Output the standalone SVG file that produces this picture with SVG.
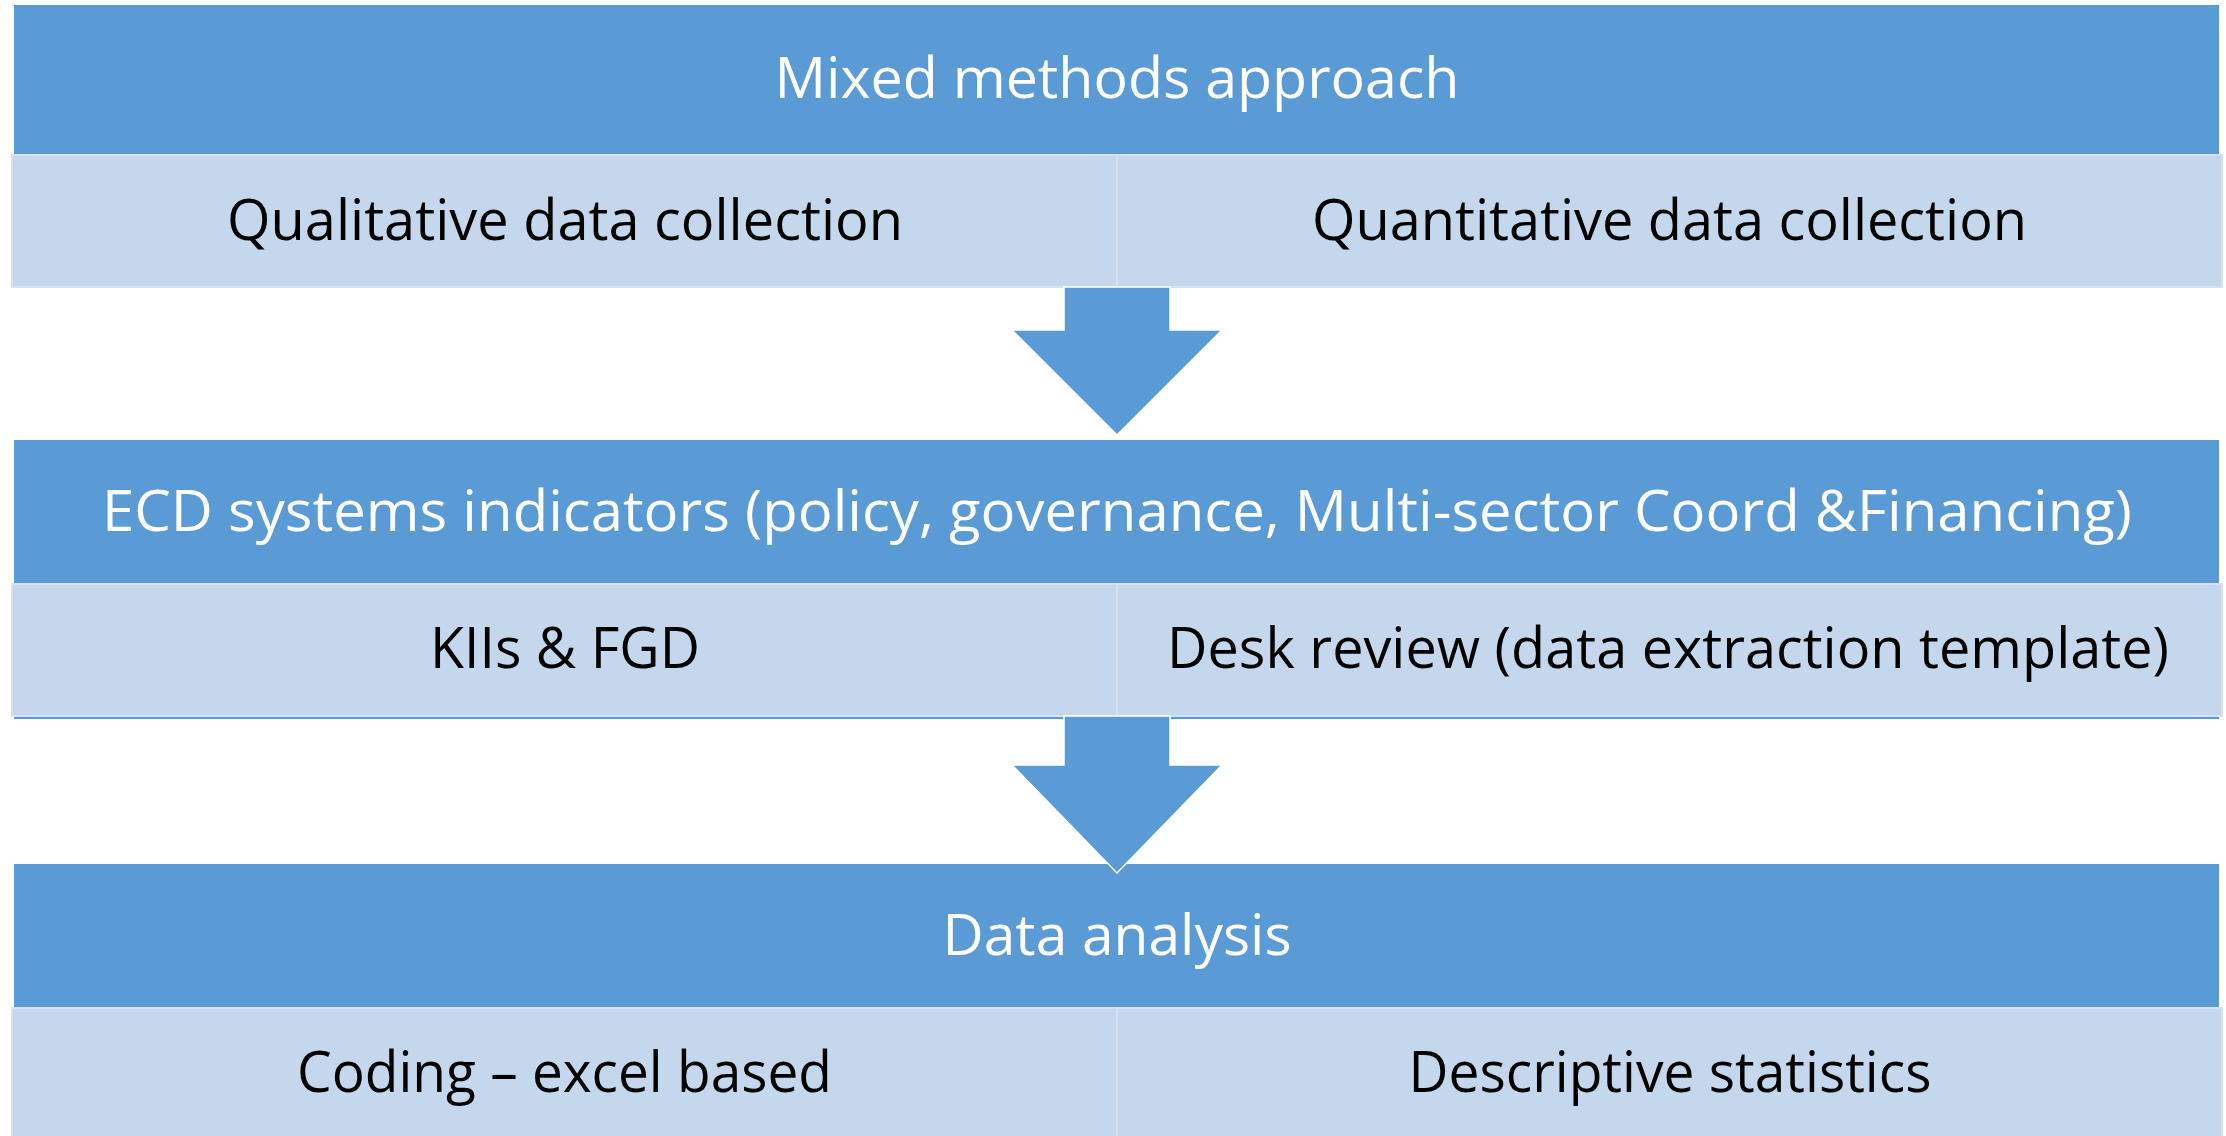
<svg xmlns="http://www.w3.org/2000/svg" width="2226" height="1136" viewBox="0 0 2226 1136">
<style>
.hdr{fill:#5B9BD5}
.sub{fill:#C5D7ED;stroke:#D6E2F2;stroke-width:2}
.arrow{fill:#5B9BD5;stroke:#FFFFFF;stroke-width:1.5;stroke-linejoin:miter}
text{font-family:"Open Sans","Noto Sans","Liberation Sans",sans-serif;font-size:57px;text-anchor:middle}
.w{fill:#FFFFFF}
.k{fill:#000000}
</style>
<rect x="0" y="0" width="2226" height="1136" fill="#FFFFFF"/>
<g id="section1">
  <g id="mixed-methods">
    <rect class="hdr" x="14" y="5" width="2205" height="150"/>
    <text class="w" x="1117" y="98" textLength="685" lengthAdjust="spacingAndGlyphs">Mixed methods approach</text>
  </g>
  <g id="qualitative">
    <rect class="sub" x="12" y="155" width="1105" height="132"/>
    <text class="k" x="565" y="240" textLength="676" lengthAdjust="spacingAndGlyphs">Qualitative data collection</text>
  </g>
  <g id="quantitative">
    <rect class="sub" x="1117" y="155" width="1105" height="132"/>
    <text class="k" x="1669.5" y="240" textLength="715" lengthAdjust="spacingAndGlyphs">Quantitative data collection</text>
  </g>
</g>
<g id="section2">
  <g id="ecd-indicators">
    <rect class="hdr" x="14" y="440" width="2205" height="279"/>
    <text class="w" x="1117" y="531" textLength="2030" lengthAdjust="spacingAndGlyphs">ECD systems indicators (policy, governance, Multi-sector Coord &amp;Financing)</text>
  </g>
  <g id="kiis-fgd">
    <rect class="sub" x="12" y="584" width="1105" height="132"/>
    <text class="k" x="565" y="668" textLength="270" lengthAdjust="spacingAndGlyphs">KIIs &amp; FGD</text>
  </g>
  <g id="desk-review">
    <rect class="sub" x="1117" y="584" width="1105" height="132"/>
    <text class="k" x="1668" y="668" textLength="1002" lengthAdjust="spacingAndGlyphs">Desk review (data extraction template)</text>
  </g>
</g>
<g id="section3">
  <g id="data-analysis">
    <rect class="hdr" x="14" y="864" width="2205" height="144"/>
    <text class="w" x="1117" y="955" textLength="349" lengthAdjust="spacingAndGlyphs">Data analysis</text>
  </g>
  <g id="coding">
    <rect class="sub" x="12" y="1008" width="1105" height="134"/>
    <text class="k" x="564.5" y="1092" textLength="535" lengthAdjust="spacingAndGlyphs">Coding – excel based</text>
  </g>
  <g id="descriptive">
    <rect class="sub" x="1117" y="1008" width="1105" height="134"/>
    <text class="k" x="1670" y="1092" textLength="523" lengthAdjust="spacingAndGlyphs">Descriptive statistics</text>
  </g>
</g>
<g id="connectors">
  <polygon class="arrow" points="1064,287 1170,287 1170,330 1222,330 1117,435 1012,330 1064,330"/>
  <polygon class="arrow" points="1064,716 1170,716 1170,765 1222,765 1117,873 1012,765 1064,765"/>
</g>
</svg>
